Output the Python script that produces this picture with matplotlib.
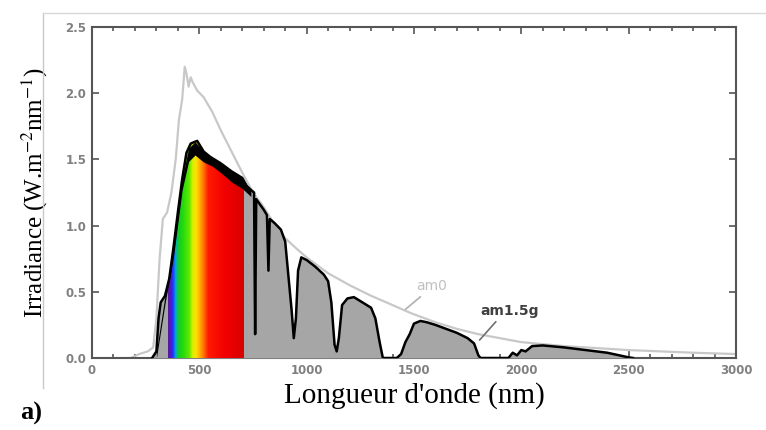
import numpy as np
import matplotlib
matplotlib.use("Agg")
import matplotlib.pyplot as plt
from matplotlib.colors import LinearSegmentedColormap
from matplotlib.patches import Polygon
from matplotlib.ticker import MultipleLocator

# Extraterrestrial spectrum (am0)
am0_wl = [180, 220, 260, 285, 300, 315, 330, 350, 370, 390, 405, 420, 432, 440, 450,
          460, 470, 490, 520, 560, 600, 650, 700, 750, 800, 877, 950, 1000, 1100,
          1200, 1300, 1400, 1484, 1600, 1700, 1800, 1900, 2000, 2200, 2500, 2800, 3000]
am0_irr = [0.0, 0.03, 0.05, 0.08, 0.3, 0.75, 1.05, 1.1, 1.25, 1.5, 1.8, 1.95, 2.2, 2.15, 2.05,
           2.12, 2.08, 2.02, 1.97, 1.86, 1.72, 1.56, 1.4, 1.25, 1.14, 0.94, 0.83, 0.76, 0.64,
           0.55, 0.47, 0.4, 0.34, 0.27, 0.22, 0.18, 0.15, 0.12, 0.09, 0.06, 0.04, 0.03]

# Ground spectrum (am1.5g)
am15_wl = [280, 300, 310, 320, 340, 360, 380, 400, 420, 440, 460, 490, 520, 550, 600, 650,
           700, 720, 740, 755, 760, 765, 800, 815, 822, 828, 850, 880, 900, 915, 930, 940,
           950, 960, 975, 1000, 1040, 1080, 1100, 1115, 1130, 1140, 1150, 1165, 1190, 1220,
           1250, 1270, 1300, 1320, 1340, 1355, 1420, 1440, 1460, 1480, 1500, 1530, 1560,
           1600, 1650, 1700, 1750, 1780, 1800, 1810, 1940, 1960, 1980, 2000, 2020, 2050,
           2100, 2200, 2300, 2400, 2500, 2520]
am15_irr = [0.0, 0.05, 0.3, 0.42, 0.47, 0.6, 0.84, 1.1, 1.35, 1.55, 1.62, 1.64, 1.56, 1.52,
            1.47, 1.41, 1.36, 1.3, 1.27, 1.25, 0.18, 1.2, 1.12, 1.08, 0.66, 1.05, 1.02, 0.97,
            0.88, 0.62, 0.36, 0.15, 0.3, 0.66, 0.76, 0.74, 0.69, 0.63, 0.58, 0.42, 0.1, 0.05,
            0.15, 0.4, 0.45, 0.46, 0.43, 0.41, 0.38, 0.3, 0.12, 0.0, 0.0, 0.03, 0.12, 0.18,
            0.26, 0.28, 0.27, 0.25, 0.22, 0.19, 0.15, 0.11, 0.02, 0.0, 0.0, 0.04, 0.02, 0.06,
            0.05, 0.09, 0.095, 0.08, 0.06, 0.04, 0.005, 0.0]

# Visible band colours (wavelength, colour)
vis_wl = [355, 370, 378, 390, 398, 420, 452, 468, 485, 500, 520, 540, 620, 705]
vis_colors = ['#5a1a9a', '#4a18d8', '#1840ff', '#00a8e8', '#10c830', '#20d810', '#60e800',
              '#d8f000', '#ffe000', '#ffb000', '#ff7000', '#ff1a00', '#f20000', '#d80000']

x_ticks = [0, 500, 1000, 1500, 2000, 2500, 3000]
y_ticks = [0.0, 0.5, 1.0, 1.5, 2.0, 2.5]

plt.rcParams['mathtext.fontset'] = 'stix'

fig = plt.figure(figsize=(7.66, 4.30), dpi=100)
ax = fig.add_axes([0.1201, 0.1674, 0.8407, 0.7698])

# am0 curve
ax.plot(am0_wl, am0_irr, color='#c8c8c8', lw=1.6, zorder=2)

# am1.5g filled spectrum
ax.fill_between(am15_wl, 0, am15_irr, color='#a6a6a6', lw=0, zorder=3)
poly = Polygon(np.column_stack([[am15_wl[0]] + am15_wl + [am15_wl[-1]],
                                [0] + am15_irr + [0]]), closed=True, transform=ax.transData)
span = np.linspace(vis_wl[0], vis_wl[-1], 400)
pos = [(w - vis_wl[0]) / (vis_wl[-1] - vis_wl[0]) for w in vis_wl]
cmap = LinearSegmentedColormap.from_list('vis', list(zip(pos, vis_colors)))
im = ax.imshow(span[np.newaxis, :], cmap=cmap, aspect='auto',
               extent=[vis_wl[0], vis_wl[-1], 0, 2.5], zorder=4)
im.set_clip_path(poly)
ax.plot(am15_wl, am15_irr, color='black', lw=1.8, zorder=5)
# dark cap over the visible peak
cap_wl = [300, 340, 380, 420, 450, 480, 520, 560, 600, 650, 700, 740]
cap_depth = [0.05, 0.06, 0.07, 0.08, 0.1, 0.1, 0.08, 0.06, 0.07, 0.08, 0.08, 0.05]
cap_top = np.interp(cap_wl, am15_wl, am15_irr)
ax.fill_between(cap_wl, cap_top - np.array(cap_depth), cap_top, color='black', lw=0, zorder=5)

# labels on curves
ax.text(1580, 0.545, 'am0', color='#c0c0c0', fontsize=10, ha='center', va='center', zorder=6)
ax.annotate('', xy=(1451, 0.355), xytext=(1540, 0.476),
            arrowprops=dict(arrowstyle='-', color='#b0b0b0', lw=1.2), zorder=6)
ax.text(1945, 0.355, 'am1.5g', color='#404040', fontsize=10, fontweight='bold',
        ha='center', va='center', zorder=6)
ax.annotate('', xy=(1797, 0.12), xytext=(1890, 0.29),
            arrowprops=dict(arrowstyle='-', color='#707070', lw=1.2), zorder=6)

ax.set_xlim(0, 3000)
ax.set_ylim(0, 2.5)
ax.set_xticks(x_ticks)
ax.set_yticks(y_ticks)
ax.set_yticklabels([f'{v:.1f}' for v in y_ticks])
ax.xaxis.set_minor_locator(MultipleLocator(100))
ax.tick_params(which='both', direction='in', top=True, right=True,
               labelsize=8.5, labelcolor='#808080', color='#555555', width=1.2)
ax.tick_params(which='major', length=5, pad=4)
ax.tick_params(which='minor', length=3)
for lbl in ax.get_xticklabels() + ax.get_yticklabels():
    lbl.set_fontweight('bold')
for sp in ax.spines.values():
    sp.set_color('#555555')
    sp.set_linewidth(1.5)

ax.set_xlabel("Longueur d'onde (nm)", family='Liberation Serif', fontsize=21, labelpad=4)
ax.set_ylabel('Irradiance (W.m$^{-2}$nm$^{-1}$)', family='Liberation Serif', fontsize=18,
              labelpad=11)

fig.text(0.026, 0.025, 'a)', family='Liberation Serif', fontsize=19, fontweight='bold')
# faint frame around the panel
fig.add_artist(plt.Line2D([43 / 766, 43 / 766], [1 - 13 / 430, 1 - 388 / 430],
                          color='#c8c8c8', lw=1))
fig.add_artist(plt.Line2D([43 / 766, 1.0], [1 - 13 / 430, 1 - 13 / 430],
                          color='#d8d8d8', lw=1))

fig.savefig('out.png', dpi=100)
